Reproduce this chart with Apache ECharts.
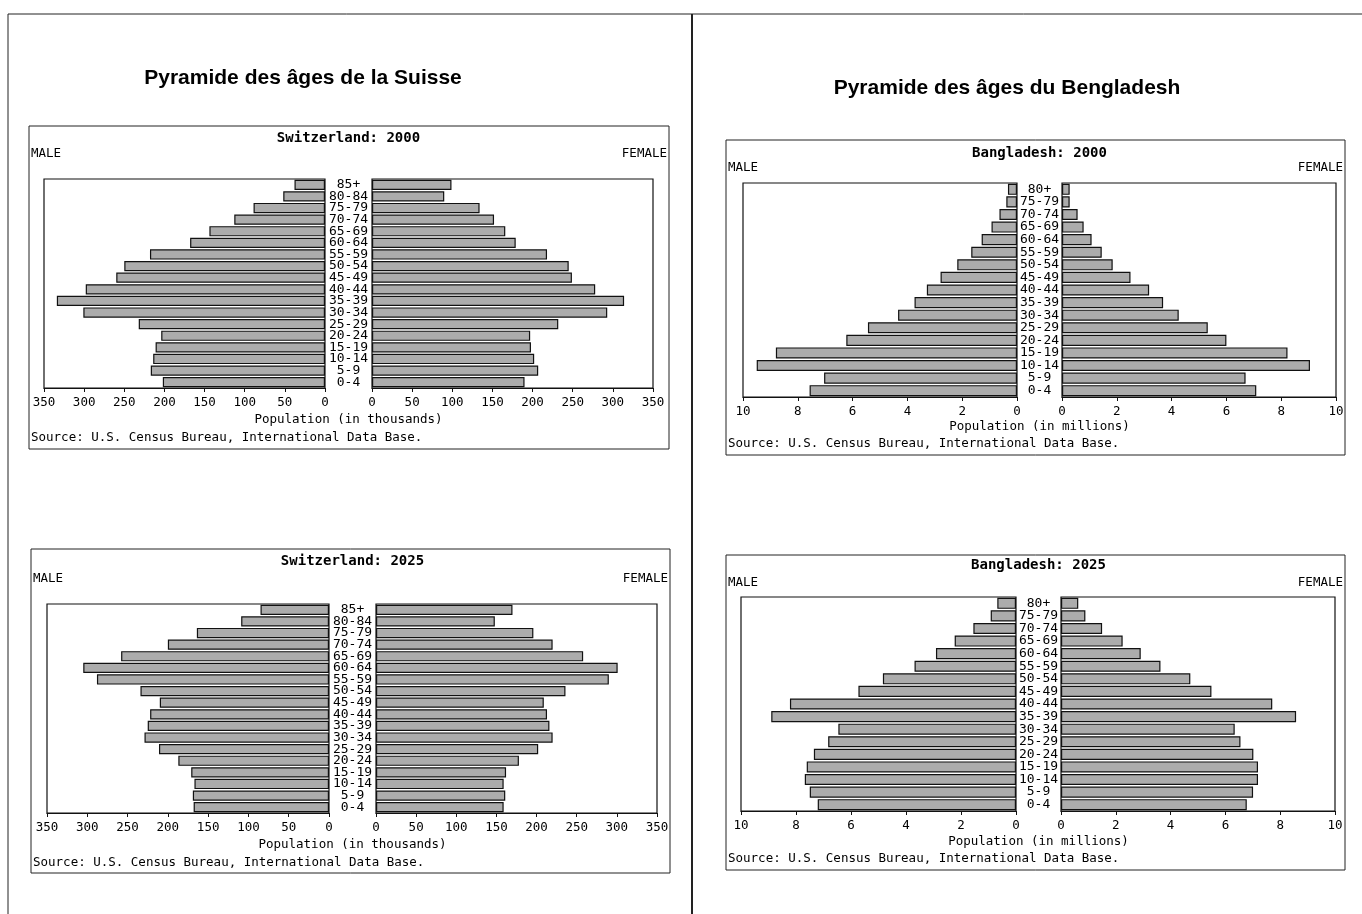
<!DOCTYPE html>
<html>
<head>
<meta charset="utf-8">
<title>Pyramides des âges</title>
<script src="https://cdn.jsdelivr.net/npm/echarts@6/dist/echarts.min.js"></script>
<style>
  html, body { margin: 0; background: #fff; }
  #main { width: 1362px; height: 914px; }
</style>
</head>
<body>
<div id="main"></div>
<script>
// age groups, bottom to top
let swissAges = ['0-4', '5-9', '10-14', '15-19', '20-24', '25-29', '30-34', '35-39', '40-44',
  '45-49', '50-54', '55-59', '60-64', '65-69', '70-74', '75-79', '80-84', '85+'];
let bangAges = ['0-4', '5-9', '10-14', '15-19', '20-24', '25-29', '30-34', '35-39', '40-44',
  '45-49', '50-54', '55-59', '60-64', '65-69', '70-74', '75-79', '80+'];

// Switzerland, thousands
let swissMale2000 = [202, 217, 214, 211, 204, 232, 301, 334, 298, 260, 250, 218, 168, 144, 113, 89, 52, 38];
let swissFemale2000 = [190, 207, 202, 198, 197, 232, 293, 314, 278, 249, 245, 218, 179, 166, 152, 134, 90, 99];
let swissMale2025 = [168, 169, 167, 171, 187, 211, 229, 225, 222, 210, 234, 288, 305, 258, 200, 164, 109, 85];
let swissFemale2025 = [159, 161, 159, 162, 178, 202, 220, 216, 213, 209, 236, 290, 301, 258, 220, 196, 148, 170];

// Bangladesh, millions
let bangMale2000 = [7.57, 7.04, 9.50, 8.80, 6.23, 5.44, 4.34, 3.74, 3.29, 2.79, 2.18, 1.67, 1.29, 0.93, 0.64, 0.39, 0.33];
let bangFemale2000 = [7.09, 6.70, 9.05, 8.23, 6.00, 5.32, 4.26, 3.69, 3.18, 2.50, 1.85, 1.45, 1.08, 0.79, 0.57, 0.28, 0.28];
let bangMale2025 = [7.21, 7.50, 7.68, 7.61, 7.35, 6.83, 6.46, 8.90, 8.22, 5.73, 4.84, 3.69, 2.91, 2.23, 1.55, 0.92, 0.68];
let bangFemale2025 = [6.78, 7.01, 7.19, 7.19, 7.02, 6.55, 6.34, 8.58, 7.71, 5.49, 4.72, 3.63, 2.91, 2.25, 1.50, 0.89, 0.63];

// axis scales (tick labels come from these)
let swissMax = 350, swissStep = 50;
let bangMax = 10, bangStep = 2;

let mono = '"DejaVu Sans Mono", "Liberation Mono", monospace';
let grids = [], xAxes = [], yAxes = [], series = [], graphics = [];

function txt(x, y, text, font, align) {
  graphics.push({
    type: 'text', x: x, y: y, silent: true,
    style: { text: text, font: font, fill: '#000', align: align || 'left', verticalAlign: 'middle' }
  });
}

function box(x, y, w, h) {
  graphics.push({
    type: 'rect', silent: true,
    shape: { x: x, y: y, width: w, height: h },
    style: { fill: 'none', stroke: '#222', lineWidth: 1 }
  });
}

function line(x1, y1, x2, y2, w) {
  graphics.push({
    type: 'line', silent: true,
    shape: { x1: x1, y1: y1, x2: x2, y2: y2 },
    style: { stroke: '#222', lineWidth: w }
  });
}

// one pyramid = two grids side by side
function pyramid(p) {
  let sides = [
    { left: p.lLeft, width: p.lWidth, data: p.male, inverse: true, labels: false },
    { left: p.rLeft, width: p.rWidth, data: p.female, inverse: false, labels: true }
  ];
  sides.forEach(s => {
    let i = grids.length;
    grids.push({
      left: s.left, top: p.top, width: s.width, height: p.height,
      show: true, borderColor: '#111', borderWidth: 1.2, backgroundColor: '#fff'
    });
    xAxes.push({
      gridIndex: i, type: 'value', min: 0, max: p.max, interval: p.step, inverse: s.inverse,
      axisLine: { show: true, lineStyle: { color: '#111', width: 1.2 } },
      axisTick: { show: true, length: 4, lineStyle: { color: '#111' } },
      axisLabel: { margin: 8, fontFamily: mono, fontSize: 12.5, color: '#000' },
      splitLine: { show: false }
    });
    yAxes.push({
      gridIndex: i, type: 'category', data: p.ages,
      axisLine: { show: false }, axisTick: { show: false },
      axisLabel: {
        show: s.labels, margin: (p.rLeft - p.lLeft - p.lWidth) / 2, align: 'center',
        fontFamily: mono, fontSize: 13, color: '#000', interval: 0
      }
    });
    series.push({
      type: 'bar', xAxisIndex: i, yAxisIndex: i, data: s.data,
      barCategoryGap: '12%',
      itemStyle: { color: '#acacac', borderColor: '#111', borderWidth: 1.2 }
    });
  });
  let mid = (p.lLeft + p.lWidth + p.rLeft) / 2;
  box(p.bx, p.by, p.bw, p.bh);
  txt(mid, p.titleY, p.title, 'bold 14px ' + mono, 'center');
  txt(p.bx + 2, p.sexY, 'MALE', '12.5px ' + mono);
  txt(p.bx + p.bw - 2, p.sexY, 'FEMALE', '12.5px ' + mono, 'right');
  txt(mid, p.popY, p.unit, '12.5px ' + mono, 'center');
  txt(p.bx + 2, p.srcY, 'Source: U.S. Census Bureau, International Data Base.', '12.5px ' + mono);
}

// page frame
line(8, 14, 1362, 14, 1);
line(8, 14, 8, 914, 1);
line(692, 14, 692, 914, 2);
txt(303, 78, 'Pyramide des âges de la Suisse', 'bold 21px "Liberation Sans", Arial, sans-serif', 'center');
txt(1007, 88, 'Pyramide des âges du Bengladesh', 'bold 21px "Liberation Sans", Arial, sans-serif', 'center');

pyramid({
  title: 'Switzerland: 2000', unit: 'Population (in thousands)', ages: swissAges,
  male: swissMale2000, female: swissFemale2000, max: swissMax, step: swissStep,
  lLeft: 44, lWidth: 281, rLeft: 372, rWidth: 281, top: 179, height: 209,
  bx: 29, by: 126, bw: 640, bh: 323, titleY: 138, sexY: 154, popY: 420, srcY: 438
});
pyramid({
  title: 'Switzerland: 2025', unit: 'Population (in thousands)', ages: swissAges,
  male: swissMale2025, female: swissFemale2025, max: swissMax, step: swissStep,
  lLeft: 47, lWidth: 282, rLeft: 376, rWidth: 281, top: 604, height: 209,
  bx: 31, by: 549, bw: 639, bh: 324, titleY: 561, sexY: 579, popY: 845, srcY: 863
});
pyramid({
  title: 'Bangladesh: 2000', unit: 'Population (in millions)', ages: bangAges,
  male: bangMale2000, female: bangFemale2000, max: bangMax, step: bangStep,
  lLeft: 743, lWidth: 274, rLeft: 1062, rWidth: 274, top: 183, height: 214,
  bx: 726, by: 140, bw: 619, bh: 315, titleY: 153, sexY: 168, popY: 427, srcY: 444
});
pyramid({
  title: 'Bangladesh: 2025', unit: 'Population (in millions)', ages: bangAges,
  male: bangMale2025, female: bangFemale2025, max: bangMax, step: bangStep,
  lLeft: 741, lWidth: 275, rLeft: 1061, rWidth: 274, top: 597, height: 214,
  bx: 726, by: 555, bw: 619, bh: 315, titleY: 565, sexY: 583, popY: 842, srcY: 859
});

let chart = echarts.init(document.getElementById('main'));
chart.setOption({
  backgroundColor: '#fff',
  animation: false,
  grid: grids,
  xAxis: xAxes,
  yAxis: yAxes,
  series: series,
  graphic: graphics
});
</script>
</body>
</html>
